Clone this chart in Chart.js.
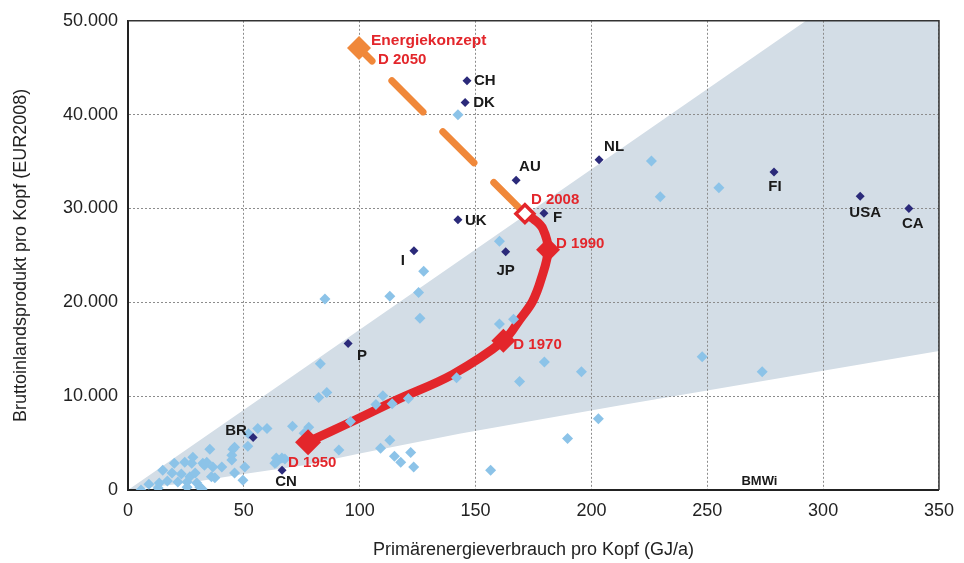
<!DOCTYPE html>
<html lang="de">
<head>
  <meta charset="UTF-8" />
  <title>Energieverbrauch und BIP pro Kopf</title>
  <script src="https://cdn.jsdelivr.net/npm/chart.js"></script>
  <style>
    html, body { margin: 0; padding: 0; background: #fff; }
    #wrap { width: 964px; height: 563px; position: relative; }
  </style>
</head>
<body>
<div id="wrap"><canvas id="energyChart"></canvas></div>
<script>
// --- Daten ---
// Länder ohne Beschriftung (hellblau)
const otherX = [5.6, 9, 13, 13.5, 15, 17, 19, 20, 21.5, 23, 24.5, 25.5, 25.5, 26.7, 27.5, 28, 29, 29.7, 31, 32,
  32.3, 33, 34, 35.3, 36, 36.6, 37.5, 40.5, 44.8, 44.8, 45.3, 46, 46, 49.6, 50.4, 51.7, 52, 56, 60, 64,
  64, 66.4, 67.7, 63.4, 71, 76, 78, 83, 82.3, 85.8, 85, 91, 96, 107, 110, 114, 121, 109, 113, 115,
  117.7, 122, 123.3, 113, 125.4, 126, 127.6, 141.8, 142.4, 160.3, 160.3, 166.4, 169, 179.7, 195.7, 203, 189.7, 156.5, 225.9, 229.7,
  255, 247.8, 273.7];
const otherY = [0, 600, 200, 750, 2100, 950, 1800, 2850, 850, 1700, 2950, 850, 300, 1400, 2850, 3500, 1800, 750, 300, 100,
  2850, 2650, 2950, 4350, 1400, 2450, 1300, 2450, 3200, 3700, 4350, 1800, 4550, 1050, 2450, 4650, 6000, 6550, 6550, 2950,
  3400, 3400, 3300, 2850, 6800, 6050, 6700, 13450, 9850, 10400, 20350, 4250, 7300, 9100, 10050, 9200, 9750, 4450, 5300, 3600,
  2950, 4000, 2450, 20650, 21050, 18300, 23300, 11950, 40000, 26500, 17700, 18200, 11550, 13650, 12600, 7600, 5500, 2100, 35050, 31250,
  32200, 14200, 12600];

// beschriftete Länder (dunkelblau)
const countryNames = ['CH', 'DK', 'AU', 'NL', 'UK', 'F', 'I', 'JP', 'FI', 'USA', 'CA', 'P', 'BR', 'CN'];
const countryX = [146.3, 145.5, 167.5, 203.3, 142.4, 179.5, 123.4, 163, 278.8, 316, 337, 95, 54, 66.5];
const countryY = [43600, 41300, 33000, 35200, 28800, 29500, 25500, 25400, 33900, 31300, 30000, 15600, 5600, 2100];

const pathX = [77.5, 96.7, 116, 140, 162, 169.5, 174.6, 178.4, 181.3, 179, 175.4, 171.3];
const pathY = [5100, 7300, 9600, 12300, 15900, 18300, 20100, 22550, 25600, 27850, 28800, 29450];
const yearLabels = ['D 1950', 'D 1970', 'D 1990', 'D 2008'];
const yearX = [77.7, 162, 181.3, 171.3];
const yearY = [5080, 15900, 25600, 29450];

// Energiekonzept 2050
const targetX = [171.3, 99.7];
const targetY = [29450, 47100];

// Korridor (grau hinterlegt)
const bandX = [0, 292.6, 350, 350, 212, 143, 100, 76, 50, 27, 0];
const bandY = [0, 50000, 50000, 14800, 9000, 6000, 3900, 2650, 1700, 800, 0];

const xTicks = [0, 50, 100, 150, 200, 250, 300, 350];
const yTicks = [0, 10000, 20000, 30000, 40000, 50000];

// --- Darstellung ---
const FONT = '"Liberation Sans", Arial, sans-serif';
const RED = '#e3262b';
const ORANGE = '#f0883a';
const NAVY = '#2b2a7a';
const LIGHT = '#8cc3e8';

const toPts = (xs, ys) => xs.map((v, i) => ({ x: v, y: ys[i] }));

// Beschriftungslage relativ zum Punkt: [dx, dy, align]
const countryLabelPos = {
  CH: [7, 0, 'left'], DK: [8, 0, 'left'], AU: [3, -13, 'left'], NL: [5, -13, 'left'],
  UK: [7, 1, 'left'], F: [9, 5, 'left'], I: [-11, 10, 'center'], JP: [0, 19, 'center'],
  FI: [1, 15, 'center'], USA: [5, 17, 'center'], CA: [4, 15, 'center'], P: [14, 12, 'center'],
  BR: [-17, -7, 'center'], CN: [4, 12, 'center']
};
const yearLabelPos = [[-20, 21], [10, 4], [8, -6], [6, -14]];

const labelPlugin = {
  id: 'labels',
  afterDatasetsDraw(chart) {
    const { ctx, scales: { x, y }, chartArea } = chart;
    ctx.save();
    ctx.textBaseline = 'middle';
    ctx.font = 'bold 15px ' + FONT;
    ctx.fillStyle = '#1a1a1a';
    countryNames.forEach((name, i) => {
      const p = countryLabelPos[name];
      ctx.textAlign = p[2];
      ctx.fillText(name, x.getPixelForValue(countryX[i]) + p[0], y.getPixelForValue(countryY[i]) + p[1]);
    });
    ctx.fillStyle = RED;
    ctx.textAlign = 'left';
    yearLabels.forEach((t, i) => {
      ctx.fillText(t, x.getPixelForValue(yearX[i]) + yearLabelPos[i][0], y.getPixelForValue(yearY[i]) + yearLabelPos[i][1]);
    });
    const tx = x.getPixelForValue(targetX[1]), ty = y.getPixelForValue(targetY[1]);
    ctx.font = 'bold 15.5px ' + FONT;
    ctx.fillText('Energiekonzept', tx + 12, ty - 7);
    ctx.font = 'bold 15px ' + FONT;
    ctx.fillText('D 2050', tx + 19, ty + 12);
    // Quelle
    ctx.fillStyle = '#1a1a1a';
    ctx.font = 'bold 13px ' + FONT;
    ctx.textAlign = 'center';
    ctx.fillText('BMWi', x.getPixelForValue(272.5), chartArea.bottom - 9);
    ctx.restore();
  },
  afterDraw(chart) {
    const { ctx, chartArea: a } = chart;
    ctx.save();
    ctx.strokeStyle = '#333';
    ctx.lineWidth = 1.5;
    ctx.beginPath();
    ctx.moveTo(a.left, a.top);
    ctx.lineTo(a.right, a.top);
    ctx.lineTo(a.right, a.bottom);
    ctx.stroke();
    ctx.restore();
  }
};

const ctx = document.getElementById('energyChart').getContext('2d');
new Chart(ctx, {
  type: 'scatter',
  data: {
    datasets: [
      {
        data: toPts(bandX, bandY), showLine: true, fill: 'shape',
        backgroundColor: '#d3dde6', borderWidth: 0, pointRadius: 0, tension: 0, order: 10
      },
      {
        data: toPts(targetX, targetY), showLine: true, borderColor: ORANGE, borderWidth: 7,
        borderDash: [44, 28], borderCapStyle: 'round', pointRadius: 0, order: 9
      },
      {
        data: toPts(pathX, pathY), showLine: true, borderColor: RED, borderWidth: 9,
        tension: 0.35, pointRadius: 0, order: 8
      },
      {
        data: toPts(otherX, otherY), pointStyle: 'rectRot', pointRadius: 5.5,
        backgroundColor: LIGHT, borderColor: LIGHT, borderWidth: 0, order: 7
      },
      {
        data: toPts(countryX, countryY), pointStyle: 'rectRot', pointRadius: 4.5,
        backgroundColor: NAVY, borderColor: NAVY, borderWidth: 0, order: 6
      },
      {
        data: toPts(yearX.slice(0, 3), yearY.slice(0, 3)), pointStyle: 'rectRot',
        pointRadius: [13, 12, 12], backgroundColor: RED, borderColor: RED, borderWidth: 0, order: 5
      },
      {
        data: toPts(yearX.slice(3), yearY.slice(3)), pointStyle: 'rectRot', pointRadius: 9,
        backgroundColor: '#fff', borderColor: RED, borderWidth: 3.5, order: 4
      },
      {
        data: [{ x: targetX[1], y: targetY[1] }], pointStyle: 'rectRot', pointRadius: 12,
        backgroundColor: ORANGE, borderColor: ORANGE, borderWidth: 0, order: 3
      }
    ]
  },
  options: {
    responsive: true,
    maintainAspectRatio: false,
    animation: false,
    events: [],
    layout: { padding: { top: 18, right: 24, bottom: 0, left: 0 } },
    plugins: {
      legend: { display: false },
      tooltip: { enabled: false },
      filler: { drawTime: 'beforeDraw' }
    },
    scales: {
      x: {
        type: 'linear', min: 0, max: 350,
        afterBuildTicks: s => { s.ticks = xTicks.map(v => ({ value: v })); },
        afterFit: s => { s.height = 73; },
        grid: { color: '#8c8c8c', lineWidth: 1, drawTicks: false },
        border: { color: '#222', width: 2, dash: [2, 2] },
        ticks: { color: '#222', padding: 10, font: { family: FONT, size: 18 } },
        title: {
          display: true, text: 'Primärenergieverbrauch pro Kopf (GJ/a)', color: '#222',
          font: { family: FONT, size: 18 }, padding: { top: 0, bottom: 2 }
        }
      },
      y: {
        type: 'linear', min: 0, max: 50000,
        afterBuildTicks: s => { s.ticks = yTicks.map(v => ({ value: v })); },
        afterFit: s => { s.width = 128; },
        grid: { color: '#8c8c8c', lineWidth: 1, drawTicks: false },
        border: { color: '#222', width: 2, dash: [2, 2] },
        ticks: {
          color: '#222', padding: 10, font: { family: FONT, size: 18 },
          callback: v => v.toLocaleString('de-DE')
        },
        title: {
          display: true, text: 'Bruttoinlandsprodukt pro Kopf (EUR2008)', color: '#222',
          font: { family: FONT, size: 18 }, padding: { top: 10, bottom: 0 }
        }
      }
    }
  },
  plugins: [labelPlugin]
});
</script>
</body>
</html>
